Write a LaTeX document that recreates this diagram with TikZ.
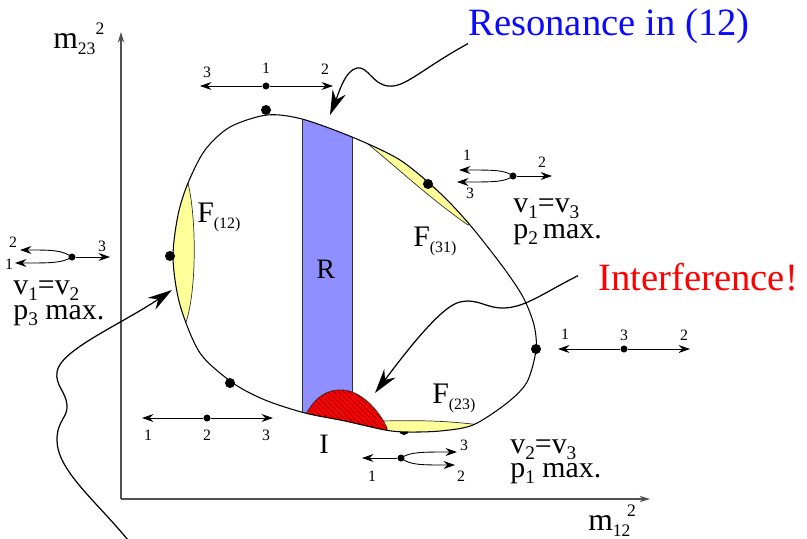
\documentclass[tikz,border=0pt]{standalone}
\usepackage{fontspec}
\setmainfont{Liberation Serif}
\usepackage{xcolor}
\usepackage{tikz}
\usetikzlibrary{arrows.meta, positioning, calc, patterns}
\definecolor{resblue}{RGB}{143, 143, 255}
\definecolor{labelblue}{RGB}{10, 10, 255}
\definecolor{fyellow}{RGB}{255, 255, 153}
\definecolor{interred}{RGB}{255, 0, 0}
\definecolor{hatchred}{RGB}{140, 0, 0}
\definecolor{axisgray}{RGB}{80, 80, 80}
\newcommand{\dsub}[2][9]{\raisebox{-0.45ex}{\fontsize{#1}{#1}\selectfont #2}}
\newcommand{\dsup}[2][10]{\raisebox{7.5pt}{\fontsize{#1}{#1}\selectfont #2}}
\newcommand{\dalitzcurve}{plot[smooth cycle] coordinates {(267,115) (302,119) (352,137) (400,160) (440,193) (470,225) (503,267) (523,297) (534,325) (536,350) (527,382) (507,403) (473,425) (440,431) (407,432) (385,430) (345,421) (305,413) (265,400) (233,383) (200,353) (180,305) (173,258) (178,215) (188,183) (205,150) (230,127)}}
\tikzstyle{boundary} = [line width=0.6pt, draw=black]
\tikzstyle{band} = [fill=resblue, draw=black!80, line width=0.5pt]
\tikzstyle{fregion} = [fill=fyellow, draw=black!80, line width=0.4pt]
\tikzstyle{interf} = [
    fill=interred,
    draw=black!80,
    line width=0.4pt,
    postaction={pattern=north west lines, pattern color=hatchred}
]
\tikzstyle{dot} = [circle, fill=black, inner sep=0pt, minimum size=5.7pt]
\tikzstyle{smalldot} = [circle, fill=black, inner sep=0pt, minimum size=4pt]
\tikzstyle{num} = [font=\fontsize{9}{9}\selectfont, inner sep=0pt]
\tikzstyle{momentum} = [line width=0.5pt, -{Stealth[length=6.5pt, width=4.5pt]}]
\tikzstyle{axis} = [line width=0.6pt, draw=axisgray, -{Stealth[length=6pt, width=3.6pt]}]
\tikzstyle{pointer} = [line width=0.7pt, -{Stealth[length=14pt, width=8pt]}]
\tikzstyle{cond} = [font=\fontsize{17}{17}\selectfont, inner sep=0pt, anchor=base west]
\tikzstyle{flabel} = [font=\fontsize{17}{17}\selectfont, inner sep=0pt, anchor=base west]
\tikzstyle{callout} = [font=\fontsize{22}{22}\selectfont, inner sep=0pt, anchor=base west]

\begin{document}
\begin{tikzpicture}[x=0.02cm, y=-0.02cm]
        \useasboundingbox (0,0) rectangle (807,538);

        % Axes
        \coordinate (origin) at (121,499);
        \coordinate (yend) at (121,32);
        \coordinate (xend) at (650,499);
        \draw[axis] (origin) -- (yend);
        \draw[axis] (origin) -- (xend);
        \node[flabel, font=\fontsize{18}{18}\selectfont] (m23) at (53,48) {m\dsub[10]{23}\dsup{2}};
        \node[flabel, font=\fontsize{18}{18}\selectfont] (m12) at (588,530) {m\dsub[10]{12}\hspace{-2pt}\dsup{2}};

        % Dot half hidden under F(23)
        \node[dot] (pbottom) at (404,430) {};

        % Regions inside the boundary
        \begin{scope}
            \clip \dalitzcurve;
            \filldraw[band] (302,100) rectangle (352,450);
            \filldraw[fregion] (186,176) .. controls (197,210) and (197,290) .. (186,322) -- (150,322) -- (150,176) -- cycle;
            \filldraw[fregion] (368,144) .. controls (402,172) and (432,200) .. (468,225) -- (520,200) -- (400,110) -- cycle;
            \filldraw[fregion] (383,421) .. controls (420,420) and (450,421) .. (480,425) -- (480,460) -- (383,460) -- cycle;
            \filldraw[interf] (306,414) .. controls (316,396) and (328,389) .. (343,390) .. controls (360,391) and (378,408) .. (387,428) -- (387,460) -- (300,460) -- cycle;
        \end{scope}
        \draw[boundary] \dalitzcurve;

        % Corner points
        \node[dot] (ptop) at (266,110) {};
        \node[dot] (pleft) at (170,256) {};
        \node[dot] (plowleft) at (230,383) {};
        \node[dot] (pright) at (536,349) {};
        \node[dot] (pf31) at (428,184) {};

        % Region labels
        \node[flabel, font=\fontsize{16}{16}\selectfont] (rlabel) at (316,278) {R};
        \node[flabel, font=\fontsize{16}{16}\selectfont] (ilabel) at (319,453) {I};
        \node[flabel] (f12) at (197,222) {F\dsub{(12)}};
        \node[flabel] (f31) at (413,246) {F\dsub{(31)}};
        \node[flabel] (f23) at (432,403) {F\dsub{(23)}};

        % Momentum sketch - top (3 1 2)
        \node[smalldot] (top1) at (266,86) {};
        \coordinate (top3) at (200,86);
        \coordinate (top2) at (333,86);
        \draw[momentum] (top1) -- (top3);
        \draw[momentum] (top1) -- (top2);
        \node[num] at (207,72) {3};
        \node[num] at (266,68) {1};
        \node[num] at (325,69) {2};

        % Momentum sketch - p2 max
        \node[smalldot] (up2) at (513,176) {};
        \coordinate (up2r) at (552,176);
        \coordinate (up2a) at (459,170);
        \coordinate (up2b) at (457,182);
        \draw[momentum] (up2) -- (up2r);
        \draw[momentum] (up2.center) .. controls (505,170) and (495,170) .. (up2a);
        \draw[momentum] (up2.center) .. controls (505,182) and (495,182) .. (up2b);
        \node[num] at (467,155) {1};
        \node[num] at (542,162) {2};
        \node[num] at (470,193) {3};
        \node[cond] (c13a) at (513,212) {v\dsub[11]{1}=v\dsub[11]{3}};
        \node[cond] (c13b) at (513,238) {p\dsub[11]{2}\,max.};

        % Momentum sketch - p3 max
        \node[smalldot] (lf3) at (72,257) {};
        \coordinate (lf3r) at (110,257);
        \coordinate (lf3a) at (20,250);
        \coordinate (lf3b) at (15,263);
        \draw[momentum] (lf3) -- (lf3r);
        \draw[momentum] (lf3.center) .. controls (62,250) and (52,250) .. (lf3a);
        \draw[momentum] (lf3.center) .. controls (62,263) and (52,263) .. (lf3b);
        \node[num] at (13,242) {2};
        \node[num] at (102,246) {3};
        \node[num] at (9,264) {1};
        \node[cond] (c12a) at (13,294) {v\dsub[11]{1}=v\dsub[11]{2}};
        \node[cond] (c12b) at (13,319) {p\dsub[11]{3} max.};

        % Momentum sketch - right (1 3 2)
        \node[smalldot] (rt3) at (624,349) {};
        \coordinate (rt1) at (558,349);
        \coordinate (rt2) at (690,349);
        \draw[momentum] (rt3) -- (rt1);
        \draw[momentum] (rt3) -- (rt2);
        \node[num] at (565,334) {1};
        \node[num] at (624,335) {3};
        \node[num] at (684,335) {2};

        % Momentum sketch - bottom left (1 2 3)
        \node[smalldot] (bl2) at (207,418) {};
        \coordinate (bl1) at (142,418);
        \coordinate (bl3) at (273,418);
        \draw[momentum] (bl2) -- (bl1);
        \draw[momentum] (bl2) -- (bl3);
        \node[num] at (148,435) {1};
        \node[num] at (207,435) {2};
        \node[num] at (266,435) {3};

        % Momentum sketch - p1 max
        \node[smalldot] (bt1) at (401,458) {};
        \coordinate (bt1l) at (362,458);
        \coordinate (bt1a) at (457,452);
        \coordinate (bt1b) at (455,465);
        \draw[momentum] (bt1) -- (bt1l);
        \draw[momentum] (bt1.center) .. controls (410,452) and (420,452) .. (bt1a);
        \draw[momentum] (bt1.center) .. controls (410,465) and (420,465) .. (bt1b);
        \node[num] at (464,445) {3};
        \node[num] at (461,476) {2};
        \node[num] at (372,476) {1};
        \node[cond] (c23a) at (510,453) {v\dsub[11]{2}=v\dsub[11]{3}};
        \node[cond] (c23b) at (510,477) {p\dsub[11]{1} max.};

        % Callouts
        \node[callout, text=labelblue] (res) at (468,35) {Resonance in (12)};
        \node[callout, text=interred] (inter) at (598,290) {Interference!};
        \coordinate (restip) at (330,115);
        \coordinate (intertip) at (375,393);
        \coordinate (fstart) at (128,540);
        \coordinate (ftip) at (172,290);
        \draw[pointer] (res.south west) .. controls (420,70) and (405,88) .. (388,86) .. controls (372,84) and (368,66) .. (357,68) .. controls (345,70) and (338,95) .. (restip);
        \draw[pointer] ($(inter.west)+(-20,-1)$) .. controls (545,292) and (525,308) .. (503,308) .. controls (485,308) and (478,298) .. (460,302) .. controls (440,306) and (400,360) .. (intertip);
        \draw[pointer] (fstart) .. controls (95,500) and (57,470) .. (57,440) .. controls (57,420) and (68,418) .. (67,405) .. controls (66,392) and (55,385) .. (57,372) .. controls (60,350) and (120,325) .. (ftip);
    \end{tikzpicture}
\end{document}
